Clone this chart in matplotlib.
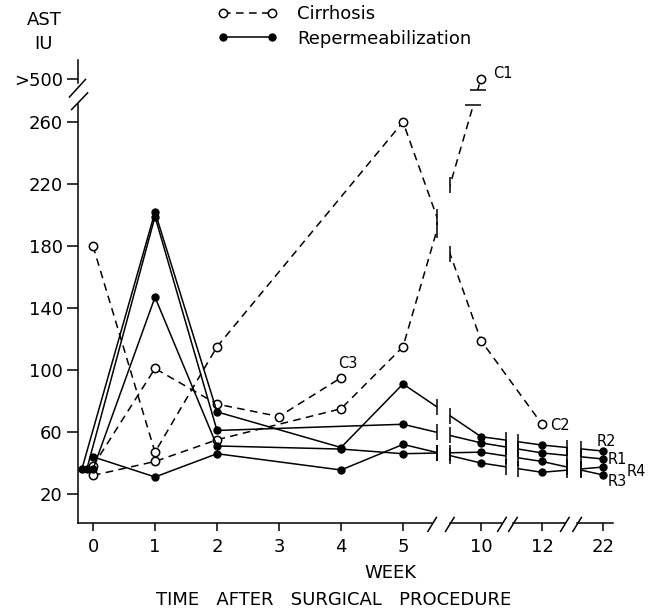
import numpy as np
import matplotlib
matplotlib.use("Agg")
import matplotlib.pyplot as plt
from matplotlib.lines import Line2D

# weeks after surgery and AST values (IU); 500 stands for ">500"
c1_weeks = [0, 1, 2, 4, 5, 10]
c1_ast = [32, 41, 55, 75, 115, 500]
c2_weeks = [0, 1, 2, 5, 10, 12]
c2_ast = [180, 47, 115, 260, 119, 65]
c3_weeks = [0, 1, 2, 3, 4]
c3_ast = [38, 101, 78, 70, 95]

r2_weeks = [-0.18, 1, 2, 4, 5, 10, 12, 22]
r2_ast = [36, 202, 73, 50, 91, 57, 51.6, 47.7]
r1_weeks = [-0.1, 1, 2, 5, 10, 12, 22]
r1_ast = [36, 199, 61, 65, 53, 46.5, 42.6]
r3_weeks = [0, 1, 2, 4, 5, 10, 12, 22]
r3_ast = [36, 147, 51, 49, 46, 47, 41, 32.3]
r4_weeks = [0, 1, 2, 4, 5, 10, 12, 22]
r4_ast = [44, 31, 46, 35.5, 52, 40, 34, 37.4]

week_ticks = [0, 1, 2, 3, 4, 5, 10, 12, 22]
ast_ticks = [20, 60, 100, 140, 180, 220, 260, 500]
ast_ticklabels = ["20", "60", "100", "140", "180", "220", "260", ">500"]

# broken x axis: week -> drawing position
WK_BRK = [-10, 0, 5, 10, 12, 22, 100]
POS_BRK = [-10, 0, 5, 6.258, 7.242, 8.226, 8.226 + 7.8]


def fx(w):
    return np.interp(np.asarray(w, dtype=float), WK_BRK, POS_BRK)


def fx_inv(p):
    return np.interp(np.asarray(p, dtype=float), POS_BRK, WK_BRK)


# broken y axis: everything above 260 squeezed
def fy(v):
    v = np.asarray(v, dtype=float)
    return np.where(v <= 260, v, 260 + (v - 260) * 28 / 240)


def fy_inv(d):
    d = np.asarray(d, dtype=float)
    return np.where(d <= 260, d, 260 + (d - 260) * 240 / 28)


plt.rcParams['font.family'] = ['DejaVu Sans']
fig = plt.figure(figsize=(6.53, 6.14), dpi=100)
ax = fig.add_axes([78 / 653, 91 / 614, 535 / 653, 463 / 614])
ax.set_xscale('function', functions=(fx, fx_inv))
ax.set_yscale('function', functions=(fy, fy_inv))
ax.set_xlim(fx_inv(-0.242), fx_inv(8.387))
ax.set_ylim(1.3, fy_inv(300))

cirr = dict(color='k', lw=1.1, ls=(0, (5, 3.5)), marker='o', ms=6,
            mfc='white', mec='k', mew=1.1, zorder=2)
rep = dict(color='k', lw=1.1, ls='-', marker='o', ms=5, mfc='k',
           mec='k', zorder=2)

cirr_series = [(c1_weeks, c1_ast), (c2_weeks, c2_ast), (c3_weeks, c3_ast)]
rep_series = [(r2_weeks, r2_ast), (r1_weeks, r1_ast), (r3_weeks, r3_ast),
              (r4_weeks, r4_ast)]
for w, v in cirr_series:
    ax.plot(w, v, **cirr)
for w, v in rep_series:
    ax.plot(w, v, **rep)

# gaps in the lines where the time axis is broken
# (first gap cuts every line, the later ones only the repermeabilization lines)
gaps = [(5.548, 5.758, 1.0, cirr_series + rep_series),
        (6.661, 6.855, 0.23, rep_series),
        (7.645, 7.871, 0.23, rep_series)]
for lo, hi, top, which in gaps:
    ax.axvspan(fx_inv(lo), fx_inv(hi), ymin=0.01, ymax=top, color='white',
               lw=0, zorder=2.5)
    for w, v in which:
        px, py = fx(w), fy(v)
        for edge in (lo, hi):
            if px.min() < edge < px.max():
                yd = np.interp(edge, px, py)
                ax.plot(fx_inv(edge), fy_inv(yd), marker='|', ms=11,
                        mew=1.1, color='k', zorder=3)

# gap in the C1 line where the AST axis is broken
ylo, yhi = 271, 280.6
ax.axhspan(fy_inv(ylo), fy_inv(yhi), xmin=0.7, xmax=0.8, color='white',
           lw=0, zorder=2.5)
px, py = fx(c1_weeks), fy(c1_ast)
for edge in (ylo, yhi):
    xd = np.interp(edge, py[-2:], px[-2:])
    ax.plot(fx_inv(xd), fy_inv(edge), marker='_', ms=11, mew=1.1,
            color='k', zorder=3)

# axes drawn by hand with break marks
for s in ax.spines.values():
    s.set_visible(False)
ak = dict(color='k', lw=1.1, transform=ax.transAxes, clip_on=False, zorder=4)
ax.plot([0, 0], [0, 0.905], **ak)
ax.plot([0, 0], [0.95, 1.0], **ak)
ax.plot([-0.016, 0.014], [0.92, 0.958], **ak)
ax.plot([-0.012, 0.018], [0.893, 0.929], **ak)
xsegs = [(0, 0.662), (0.695, 0.7925), (0.813, 0.910), (0.933, 1.0)]
for a, b in xsegs:
    ax.plot([a, b], [0, 0], **ak)
for xe in [0.662, 0.695, 0.7925, 0.813, 0.910, 0.933]:
    ax.plot([xe - 0.008, xe + 0.008], [-0.018, 0.012], **ak)

ax.set_xticks(week_ticks)
ax.set_xticklabels([str(w) for w in week_ticks])
ax.set_yticks(ast_ticks)
ax.set_yticklabels(ast_ticklabels)
ax.minorticks_off()
ax.tick_params(axis='x', direction='out', length=6, width=1.1, pad=5,
               labelsize=13)
ax.tick_params(axis='y', direction='out', length=8, width=1.1, pad=3,
               labelsize=13)

# annotations
lab = dict(fontsize=10.5, va='center', ha='left')


def figtxt(x, y, s, **kw):
    fig.text(x / 653, 1 - y / 614, s, **kw)


figtxt(493, 74, "C1", **lab)
figtxt(550, 425, "C2", **lab)
figtxt(338, 363, "C3", **lab)
figtxt(597, 442, "R2", **lab)
figtxt(608, 460, "R1", **lab)
figtxt(627, 471, "R4", **lab)
figtxt(608, 481, "R3", **lab)

figtxt(44, 20, "AST", fontsize=13, ha='center', va='center')
figtxt(44, 44, "IU", fontsize=13, ha='center', va='center')
figtxt(390, 573, "WEEK", fontsize=13, ha='center', va='center')
figtxt(334, 600, "TIME   AFTER   SURGICAL   PROCEDURE", fontsize=13,
       ha='center', va='center')

handles = [Line2D([], [], **cirr), Line2D([], [], **rep)]
fig.legend(handles, ["Cirrhosis", "Repermeabilization"], loc='upper left',
           bbox_to_anchor=(0.325, 1.0), frameon=False, numpoints=2,
           handlelength=3.3, handletextpad=1.1, labelspacing=0.35,
           fontsize=13, borderpad=0.2, borderaxespad=0.1)

fig.savefig("out.png", dpi=100)
